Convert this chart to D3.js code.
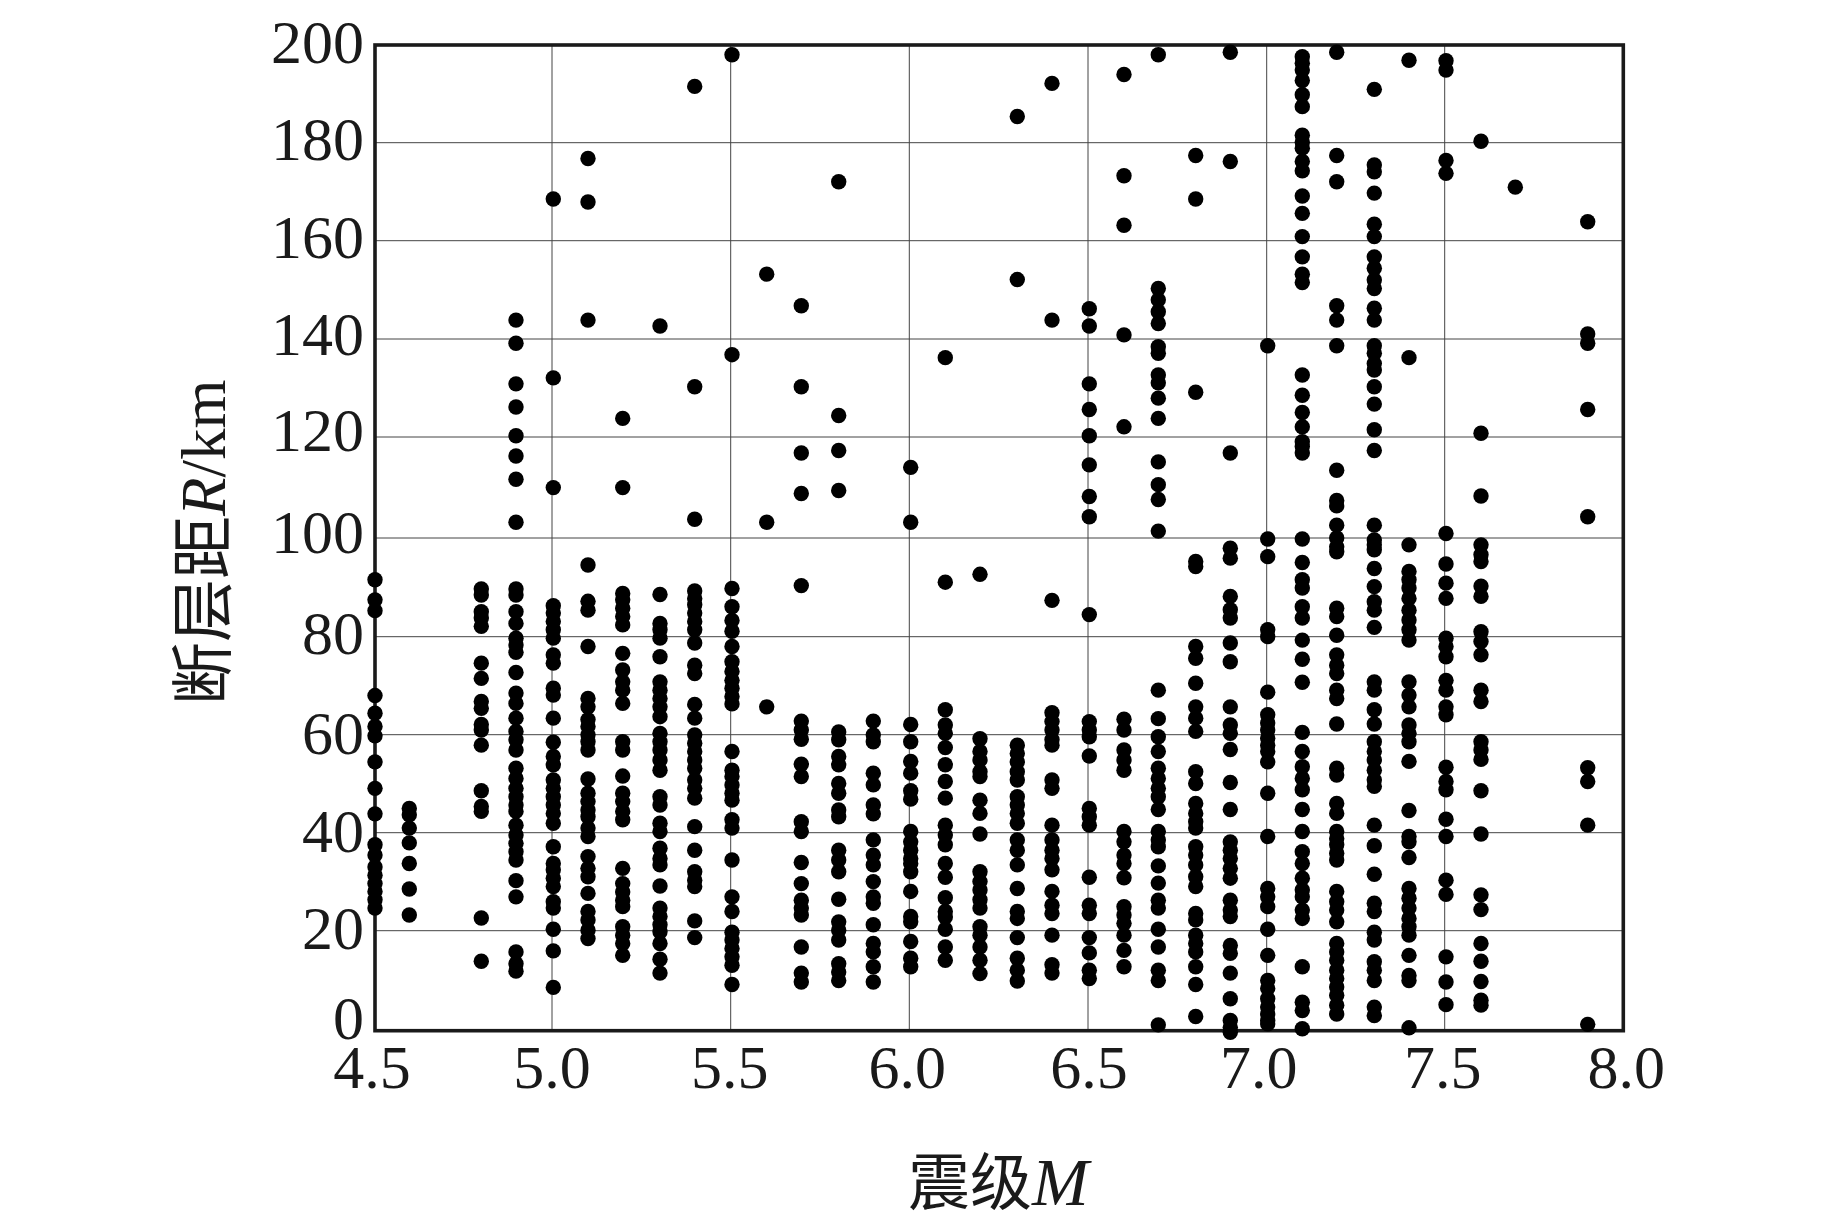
<!DOCTYPE html>
<html>
<head>
<meta charset="utf-8">
<script src="https://cdnjs.cloudflare.com/ajax/libs/d3/7.8.5/d3.min.js"></script>
<style>
html,body{margin:0;padding:0;background:#fff}
svg{display:block}
text{font-family:"Liberation Serif","Noto Sans CJK SC",serif;fill:#1a1a1a}
</style>
</head>
<body>
<svg id="chart" width="1843" height="1228"></svg>
<script>
// Distances R (km), one list per magnitude
const m45=[91.5,87.4,85.2,67.9,64.3,61.6,59.7,54.4,49,43.8,37.5,35.4,33,31.3,29.6,28,26.3,24.6];
const m46=[44.9,43.6,40.9,37.9,33.7,28.5,23.2];
const m48=[89.6,88.4,85,83.7,82,74.5,71.4,66.7,65.3,62,60.9,57.8,48.5,45.3,44.3,22.6,13.8];
const m49=[144.1,139.4,131.2,126.5,120.7,116.6,111.9,103.2,89.6,88.4,85,82.6,79.6,78.2,76.7,72.6,68.4,66.3,63.3,60.6,58.9,56.8,53.1,51,49,47.3,45.6,44.3,41.5,39.5,37.8,36.1,34.4,30.2,26.9,15.7,13.3,11.8];
const m50=[168.6,132.4,110.2,86.2,84.7,83,81.3,79.6,76.2,74.5,69.4,68,63.3,58.4,55.5,53.8,50.7,49,47.3,45.6,43.9,41.9,37.1,33.7,32.4,30.7,29,25.9,24.6,20.3,15.9,8.5];
const m51=[176.8,168,144.1,94.5,87.1,85.3,77.9,67.3,65.6,63,61.6,59.9,58.5,56.8,50.9,48,46.3,44.6,43.2,40.9,39.2,35.1,32.7,31,27.6,23.9,22.2,20.1,18.4];
const m52=[124.2,110.2,88.7,87.4,85.7,84,82.3,76.5,73.1,70.7,69,66.3,58.5,56.8,51.5,48,46.3,44.3,42.6,32.7,29.6,27.9,26.2,24.9,20.8,19.1,17.4,15];
const m53=[142.9,88.5,82.6,81.3,79.6,75.8,70.7,69,67.3,65.6,63.6,60.2,58.5,56.8,54.8,52.7,47.3,45.6,41.9,40.2,36.8,34.7,33.4,29.1,24.6,22.9,21.2,19.8,17.4,14.2,11.4];
const m54=[191.4,130.6,103.8,89.2,87.7,86.4,84.7,83,81.3,78.6,74.1,72.4,66.1,63.3,59.9,58.2,56.5,54.8,53.1,50.7,49,47,41.2,36.4,32,30.3,29,22,18.6];
const m55=[197.8,137.1,89.7,86,83.2,81,77.9,74.8,72.8,71,69.4,67.7,66.2,56.5,52.7,51.4,49.7,48,46.6,42.6,40.9,34.4,26.9,23.9,19.7,18.1,16.4,14.7,13,9.1];
const m56=[153.4,103.2,65.6];
const m57=[147,130.6,117.2,109,90.3,62.7,60.9,59,53.9,51.4,42.2,40.2,33.9,29.6,26.2,24.6,23.2,16.7,11.4,9.6];
const m58=[172.1,124.8,117.7,109.6,60.5,58.9,55.5,53.8,50,48,44.6,43.2,36.4,34.4,32,26.4,21.8,20.1,18.1,13.3,11.6,9.9];
const m59=[62.7,59.9,58.5,52.1,49.7,45.6,43.8,38.5,35.4,33.4,30,26.9,25.6,21.2,17.4,15.7,12.7,9.6];
const m60=[114.3,103.2,62,58.5,54.5,52.1,48.5,46.8,40.2,38.1,36.4,34.7,33.7,32,28,22.9,21.8,17.8,14.4,12.7];
const m61=[136.5,91,65,61.9,60.2,57.3,53.8,50.4,47,41.5,39.5,37.5,33.7,30.9,26.7,23.9,22.8,20.3,16.7,14];
const m62=[92.6,59.1,56.5,54.8,52.4,51.4,46.6,43.9,39.7,32,30,28.3,26.3,24.6,20.8,19.1,16.7,14,11.3];
const m63=[185.3,152.3,57.8,56.1,54.4,52.4,50.7,47.3,45.6,43.9,41.9,38.5,36.4,33.4,28.6,23.9,22.5,18.6,14.4,12,9.8];
const m64=[192,144.1,87.3,64.4,62.6,60.9,58.9,57.8,50.7,49,41.5,38.5,36.4,34.7,32.4,28,25.2,23.5,19.1,13.1,11.4];
const m65=[146.4,142.9,131.2,126,120.7,114.8,108.4,104.3,84.4,62.6,60.9,59.5,55.6,44.9,43.2,41.5,30.9,25.2,23.5,18.6,15.5,12,10.3];
const m66=[193.8,173.3,163.3,141.1,122.5,63.1,60.9,56.8,54.8,52.7,40.2,38.1,35.4,33.7,30.8,24.9,23.2,21.5,19.1,16,12.7];
const m67=[197.8,150.5,148.2,145.8,143.4,138.7,137.4,133,131.4,128.3,124.2,115.4,110.8,107.8,101.4,69,63.2,59.5,56.5,53.1,51,49,47.3,44.7,40.2,38.5,37.1,33.2,29.7,26.2,24.6,20.3,16.7,12,9.9,0.9];
const m68=[177.4,168.6,129.5,95.2,94.2,77.9,75.5,70.4,65.6,63.3,60.6,52.4,50,45.9,43.9,42.2,40.9,37.1,35.4,33.4,31,29,23.5,22.2,19.1,17.4,15.7,12.7,9.1,2.6];
const m69=[198.3,176.2,117.2,97.9,95.9,88.1,85.4,83.7,78.6,74.8,65.6,61.9,60.2,56.9,50.2,44.7,38.1,36.4,34.7,32.7,30.7,26.2,24.2,22.9,17,15.4,11.4,6.2,1.8,0.4,-0.6];
const m70=[138.9,99.8,96.2,81.3,79.9,68.6,64,62.3,60.9,59.2,57.8,56.5,54.4,48,39.2,28.6,26.9,24.9,20.3,15,9.9,8.3,6.2,4.5,3.1,1.8,1.1];
const m71=[197.4,196.1,194.7,192.6,189.7,187.3,181.5,180.1,178.9,176.2,174.3,169.2,165.7,161,156.9,153.4,151.7,133,128.9,125.4,122.5,119.5,118.5,117.2,99.8,95,91.5,89.8,86,83.7,79.2,75.3,70.6,60.4,56.5,53.4,51,48.7,44.7,40.2,36.1,33.7,30.7,28.3,26.9,24.2,22.5,12.7,5.5,3.8,0.1];
const m72=[198.3,177.4,172.1,147,144.1,138.9,113.7,107.6,106.5,102.6,100,98.2,97.2,85.7,84,80.2,76.2,74.1,72.4,69,67.3,62.1,53.1,51.7,45.9,43.9,40.2,38.8,37.5,35.8,34.4,28,25.9,24.2,21.8,17.4,15.7,14,12,10.3,8.6,6.9,4.9,3.1];
const m73=[190.8,175.5,174.1,169.8,163.5,161,156.9,154.6,152.2,150.5,146.5,144.1,138.9,137.4,135.3,134,130.6,127.1,121.9,117.7,102.6,99.6,98.6,97.6,93.8,90.1,87,85.3,81.8,70.7,69,65,62.1,58.5,56.5,54.8,52.7,50.7,49.4,41.5,37.3,31.5,25.6,23.9,19.7,18.1,13.7,12,9.9,4.5,2.8];
const m74=[196.7,136.5,98.6,93.2,91.5,89.8,87.7,85.3,83.3,81.3,79.2,70.7,68,65.6,61.9,60.2,58.5,54.5,44.5,39.2,38.1,34.9,28.6,26.6,24.6,22.5,20.8,19.1,15,10.9,9.9,0.3];
const m75=[196.6,194.7,176.4,173.8,100.9,94.7,90.8,87.7,79.6,77.9,75.8,71,69,65.6,64,53.3,50.4,48.7,42.7,39.2,30.3,27.4,14.7,9.6,5];
const m76=[180.3,121.2,108.5,98.6,96.6,95.2,90.2,88.1,80.9,78.9,76.2,69,66.7,58.5,56.8,54.9,48.5,39.7,27.3,24.3,17.4,13.8,9.7,5.9,4.9];
const m77=[171];
const m79=[164,141.3,139.4,126,104.3,53.2,50.4,41.5,1];

const magnitudes=[4.5,4.6,4.8,4.9,5.0,5.1,5.2,5.3,5.4,5.5,5.6,5.7,5.8,5.9,6.0,6.1,6.2,6.3,6.4,6.5,6.6,6.7,6.8,6.9,7.0,7.1,7.2,7.3,7.4,7.5,7.6,7.7,7.9];
const distances=[m45,m46,m48,m49,m50,m51,m52,m53,m54,m55,m56,m57,m58,m59,m60,m61,m62,m63,m64,m65,m66,m67,m68,m69,m70,m71,m72,m73,m74,m75,m76,m77,m79];

const xTicks=[4.5,5.0,5.5,6.0,6.5,7.0,7.5,8.0];
const yTicks=[0,20,40,60,80,100,120,140,160,180,200];
const xTitle="震级";
const xTitleVar="M";
const yTitle="断层距";
const yTitleVar="R";
const yTitleUnit="/km";

const points=magnitudes.flatMap((m,i)=>distances[i].map(r=>({m,r})));

// Layout: the reference is a slightly uneven raster, so its grid and columns are mapped piecewise
const plot={left:375,right:1623.3,top:45,bottom:1030.7};
const gridXRange=[375,552,730.7,909.3,1088,1266.7,1444.7,1623.3];
const gridYRange=[1030.7,930.7,832.7,734.7,636.7,538,437,339,240.7,142.7,45];
const columnXRange=[375,409.3,481.3,516,553.3,588,622.7,660,694.7,732,766.7,801.3,838.7,873.3,910.7,945.3,980,1017.3,1052,1089.3,1124,1158.3,1195.7,1230.3,1267.7,1302.3,1336.7,1374.3,1409,1446,1481,1515.3,1587.7];
const x=d3.scaleLinear().domain(xTicks).range(gridXRange);
const y=d3.scaleLinear().domain(yTicks).range(gridYRange);
const xDot=d3.scaleLinear().domain(magnitudes).range(columnXRange);
const yDot=d3.scaleLinear().domain([0,20,100,180,200]).range([1029.3,930.7,538,142.7,43.9]);
const svg=d3.select("#chart");

// grid
const xGrid=d3.axisBottom(x).tickValues(xTicks).tickSize(-(plot.bottom-plot.top)).tickFormat("");
const yGrid=d3.axisLeft(y).tickValues(yTicks).tickSize(-(plot.right-plot.left)).tickFormat("");
const gx=svg.append("g").attr("transform",`translate(-0.5,${plot.bottom})`).call(xGrid);
const gy=svg.append("g").attr("transform",`translate(${plot.left},-0.5)`).call(yGrid);
[gx,gy].forEach(g=>{
  g.select(".domain").remove();
  g.selectAll("line").attr("stroke","#444").attr("stroke-width",1);
});

// frame
svg.append("rect")
  .attr("x",plot.left).attr("y",plot.top)
  .attr("width",plot.right-plot.left).attr("height",plot.bottom-plot.top)
  .attr("fill","none").attr("stroke","#1a1a1a").attr("stroke-width",3.6);

// points
svg.append("g")
  .selectAll("circle").data(points).join("circle")
  .attr("cx",d=>xDot(d.m)).attr("cy",d=>yDot(d.r)).attr("r",7.7).attr("fill","#000");

// tick labels
const fontSize=62;
const xLabelShift=[-3,0,-1,-2,1,-8,-2,3];
const yLabelShift=[8,18,19,19,17,15,14,16,17,17,18];
svg.append("g").selectAll("text").data(xTicks).join("text")
  .attr("x",(d,i)=>x(d)+xLabelShift[i]).attr("y",1088)
  .attr("text-anchor","middle").attr("font-size",fontSize)
  .text(d=>d.toFixed(1));
svg.append("g").selectAll("text").data(yTicks).join("text")
  .attr("x",364).attr("y",(d,i)=>y(d)+yLabelShift[i])
  .attr("text-anchor","end").attr("font-size",fontSize)
  .text(d=>d);

// axis titles
const xt=svg.append("text").attr("x",908).attr("y",1205).attr("font-size",62);
xt.append("tspan").text(xTitle);
xt.append("tspan").attr("font-style","italic").attr("font-size",68).text(xTitleVar);

const yt=svg.append("text").attr("transform","translate(225,705) rotate(-90)").attr("font-size",63);
yt.append("tspan").text(yTitle);
yt.append("tspan").attr("font-style","italic").text(yTitleVar);
yt.append("tspan").text(yTitleUnit);
</script>
</body>
</html>
